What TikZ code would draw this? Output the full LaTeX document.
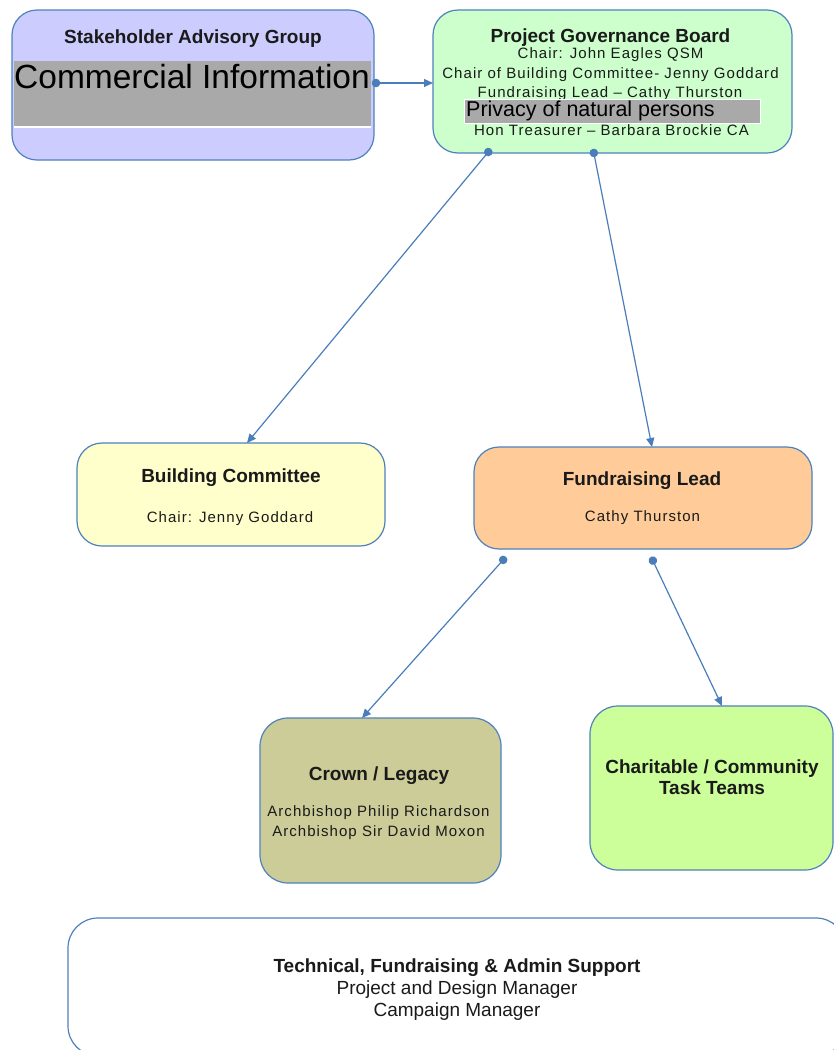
\documentclass[tikz,border=0pt]{standalone}
\usepackage{fontspec}
\setmainfont{Liberation Sans}
\newfontfamily\spacedfont[LetterSpace=7]{Liberation Sans}
\usetikzlibrary{arrows.meta}
\definecolor{bord}{HTML}{4F81BD}
\definecolor{lineblue}{HTML}{4A7EBB}
\definecolor{sagfill}{HTML}{CCCCFF}
\definecolor{pgbfill}{HTML}{CCFFCC}
\definecolor{bcfill}{HTML}{FFFFCC}
\definecolor{flfill}{HTML}{FFCC99}
\definecolor{crfill}{HTML}{CCCC99}
\definecolor{chfill}{HTML}{CCFF99}
\definecolor{greybox}{HTML}{A9A9A9}
\definecolor{txt}{HTML}{1A1A1A}
\begin{document}
\begin{tikzpicture}[x=1pt,y=-1pt,
  box/.style={draw=bord, line width=1.2pt, rounded corners=#1, inner sep=0pt, outer sep=0pt},
  box/.default=25pt,
  ttl/.style={inner sep=0pt, anchor=base, text=txt, font=\fontsize{19}{22}\selectfont\bfseries},
  sml/.style={inner sep=0pt, anchor=base, text=txt, font=\fontsize{15}{18}\selectfont\spacedfont},
  reg/.style={inner sep=0pt, anchor=base, text=txt, font=\fontsize{19}{22}\selectfont},
  conn/.style={draw=lineblue, line width=1.2pt, {Circle[length=8.5pt]}-{Triangle[length=9pt,width=8pt]}}
]
\clip (0,0) rectangle (834,1050);
\fill[white] (0,0) rectangle (834,1050);

% boxes
\node[box, fill=sagfill, minimum width=362pt, minimum height=150pt] (sag) at (193,85) {};
\node[box, fill=pgbfill, minimum width=359pt, minimum height=143pt] (pgb) at (612.5,81.5) {};
\node[box, fill=bcfill, minimum width=308pt, minimum height=103pt] (bc) at (231,494.5) {};
\node[box, fill=flfill, minimum width=338pt, minimum height=102pt] (fl) at (643,498) {};
\node[box=28pt, fill=crfill, minimum width=241pt, minimum height=165pt] (cr) at (380.5,800.5) {};
\node[box=28pt, fill=chfill, minimum width=243pt, minimum height=164pt] (ch) at (711.5,788) {};
\node[box=30pt, fill=white, minimum width=778pt, minimum height=138pt] (ts) at (457,987) {};

% Stakeholder Advisory Group
\node[ttl] (sagt) at (193,43.5) {Stakeholder Advisory Group};
\node[fill=greybox, inner sep=0pt, outer sep=0pt, minimum width=357pt, minimum height=66pt, anchor=north west] (ci) at (14,61) {};
\draw[white, line width=1.5pt] (ci.south west) -- (ci.south east);
\node[inner sep=0pt, anchor=base west, font=\fontsize{33.5}{38}\selectfont] (cit) at (14,88) {Commercial Information};

% Project Governance Board
\node[ttl] (pgbt) at (610.5,42) {Project Governance Board};
\node[sml] (pgb1) at (610.5,58.5) {Chair: John Eagles QSM};
\node[sml] (pgb2) at (610.5,78.5) {Chair of Building Committee- Jenny Goddard};
\node[sml] (pgb3) at (610,97.5) {Fundraising Lead – Cathy Thurston};
\node[fill=greybox, draw=white, line width=1pt, inner sep=0pt, outer sep=0pt, minimum width=296pt, minimum height=24pt, anchor=north west] (pv) at (464,99) {};
\node[inner sep=0pt, anchor=base west, font=\fontsize{21.5}{24}\selectfont] (pvt) at (466,116) {Privacy of natural persons};
\node[sml] (pgb4) at (611.5,135.5) {Hon Treasurer – Barbara Brockie CA};

% Building Committee
\node[ttl] (bct) at (231,482) {Building Committee};
\node[sml] (bcs) at (230,522.5) {Chair: Jenny Goddard};

% Fundraising Lead
\node[ttl] (flt) at (642,485) {Fundraising Lead};
\node[sml] (fls) at (642.5,521.5) {Cathy Thurston};

% Crown / Legacy
\node[ttl] (crt) at (379,780) {Crown / Legacy};
\node[sml] (cr1) at (378.5,816.5) {Archbishop Philip Richardson};
\node[sml] (cr2) at (378.5,836.5) {Archbishop Sir David Moxon};

% Charitable
\node[ttl] (cht1) at (712,773) {Charitable / Community};
\node[ttl] (cht2) at (712,794) {Task Teams};

% Technical support
\node[ttl] (tst) at (457,972) {Technical, Fundraising \& Admin Support};
\node[reg] (ts1) at (457,994) {Project and Design Manager};
\node[reg] (ts2) at (457,1016) {Campaign Manager};

% connectors
\draw[conn] ([xshift=-2.25pt,yshift=2pt]sag.east) -- ([yshift=-1.5pt]pgb.west);
\draw[conn] ([xshift=-121.5pt,yshift=4.25pt]pgb.south) -- ([xshift=16pt]bc.north);
\draw[conn] ([xshift=-19.5pt,yshift=4.25pt]pgb.south) -- ([xshift=9pt]fl.north);
\draw[conn] ([xshift=-137pt,yshift=-7.75pt]fl.south) -- ([xshift=-18.5pt]cr.north);
\draw[conn] ([xshift=8pt,yshift=-7.75pt]fl.south) -- ([xshift=10.5pt]ch.north);
\end{tikzpicture}
\end{document}
